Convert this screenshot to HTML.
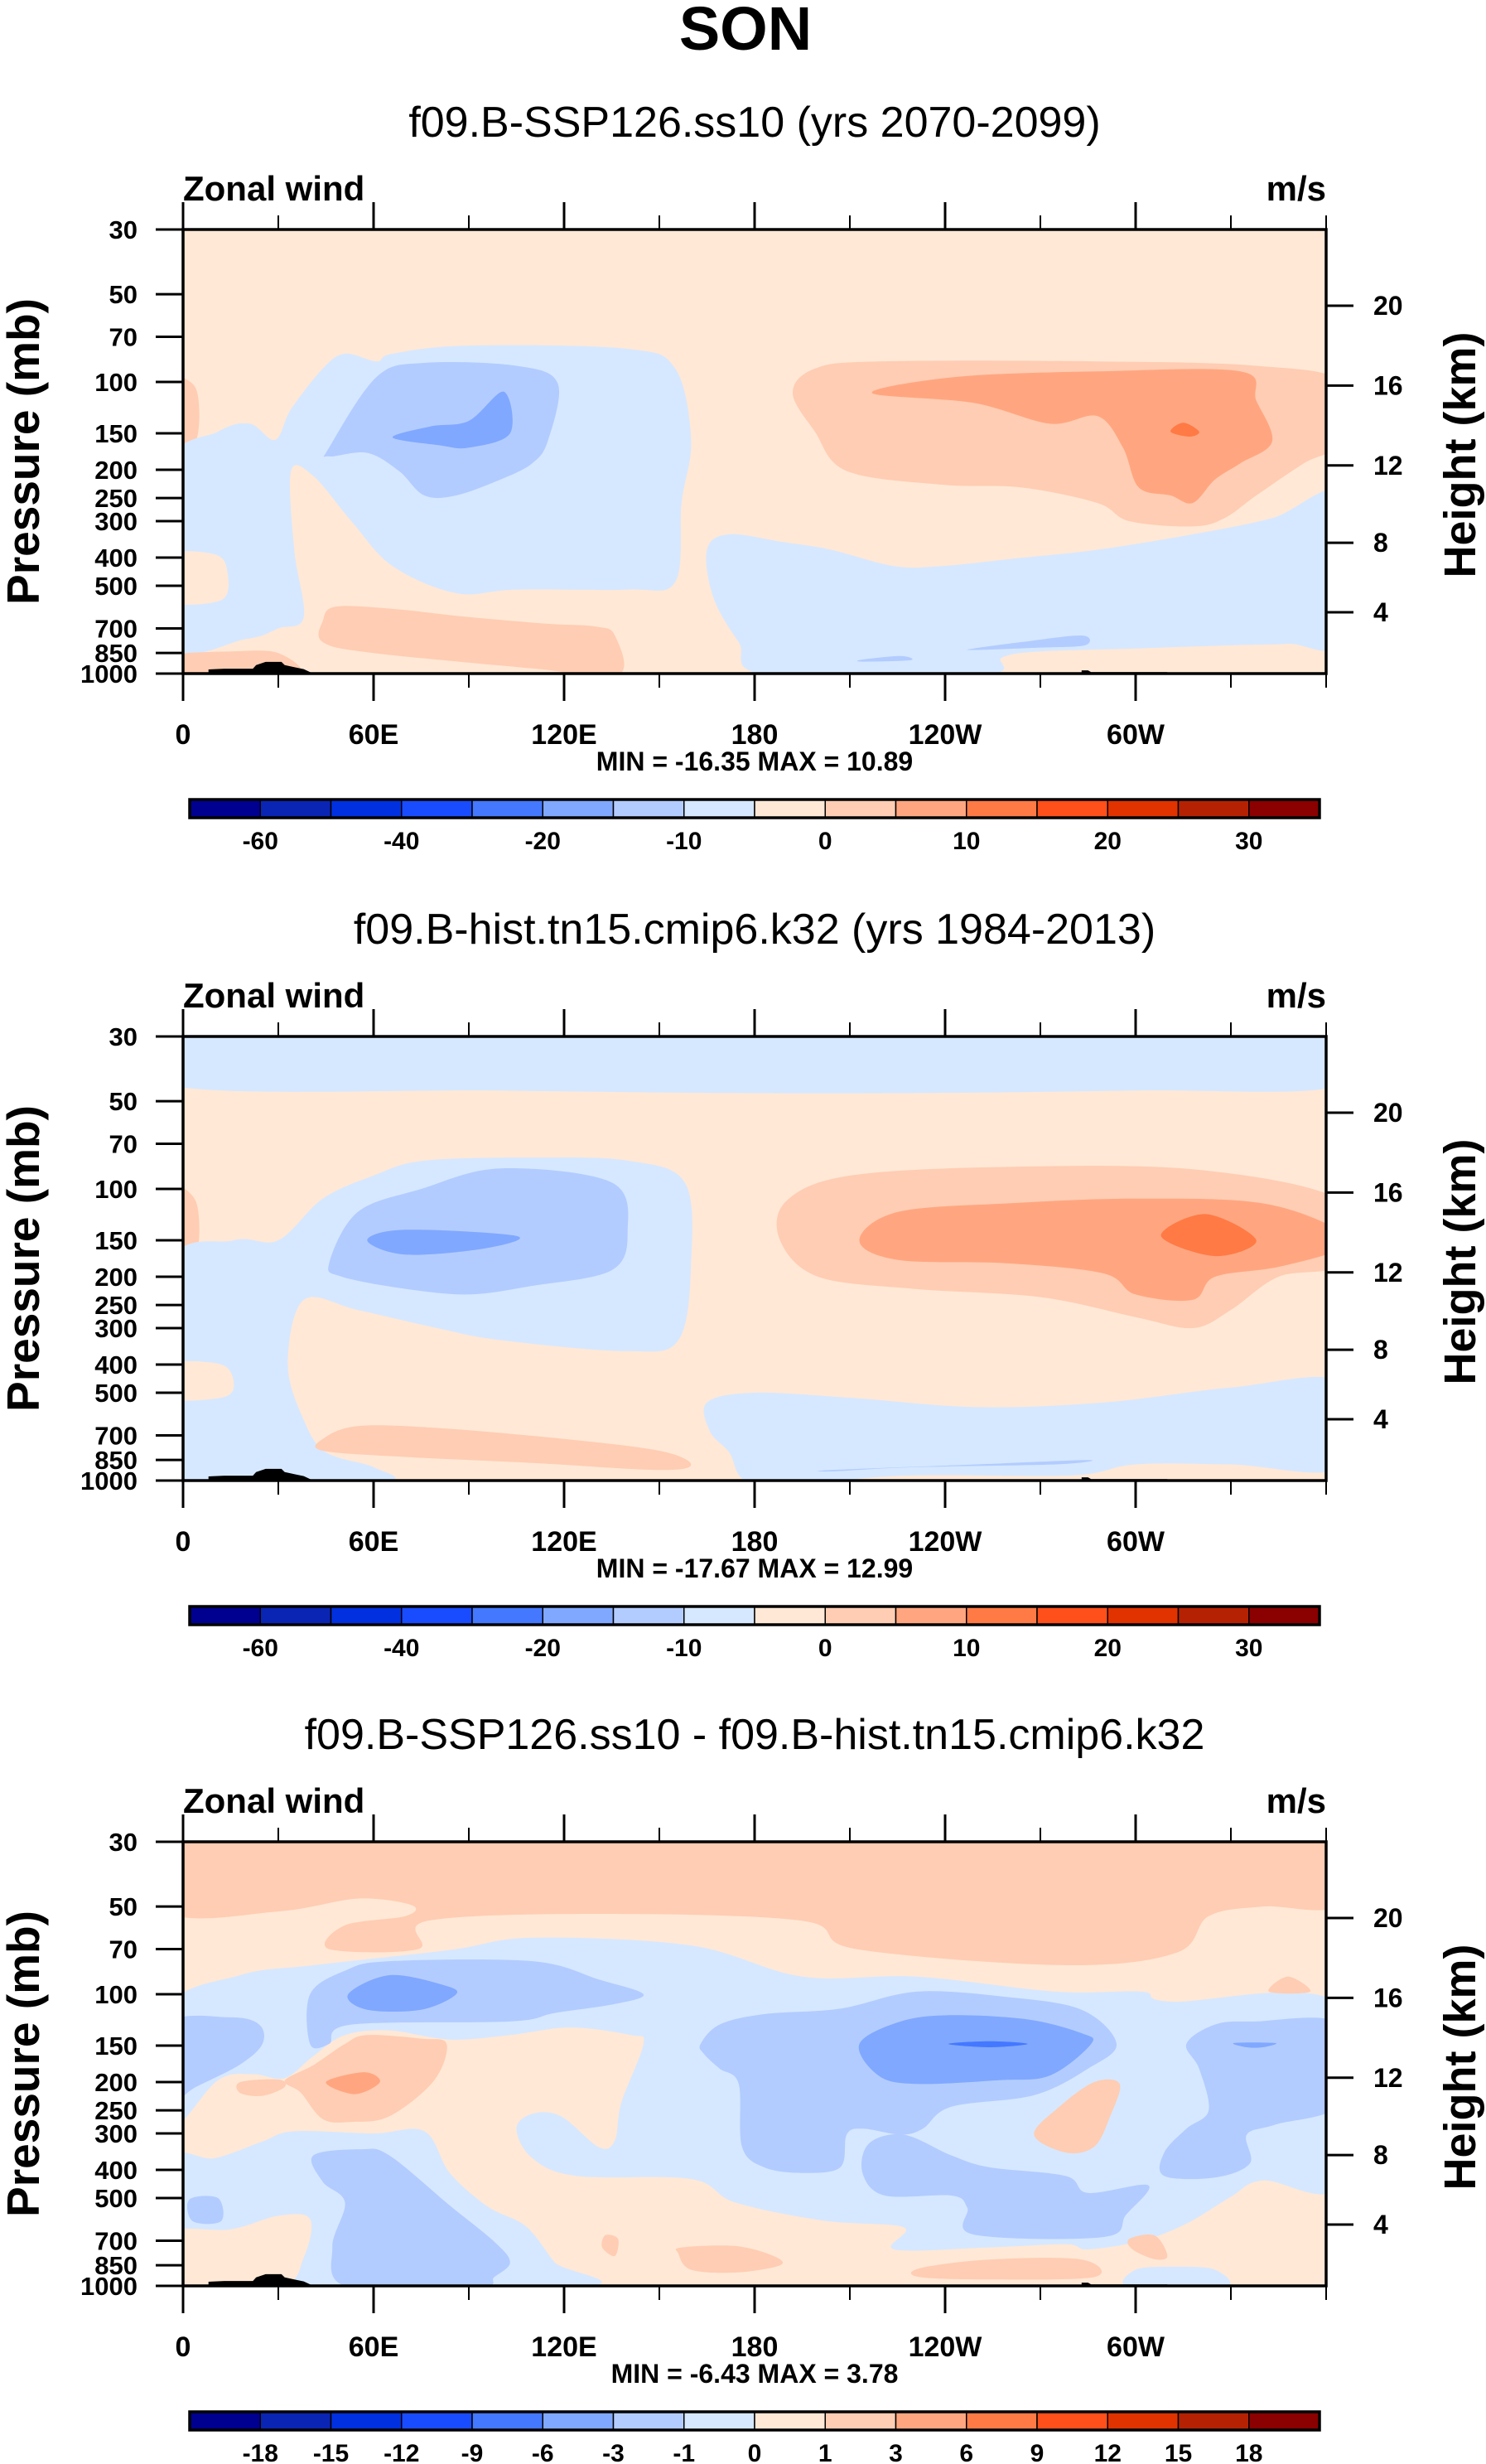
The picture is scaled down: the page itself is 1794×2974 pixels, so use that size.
<!DOCTYPE html>
<html><head><meta charset="utf-8"><title>SON Zonal wind</title>
<style>
html,body{margin:0;padding:0;background:#fff;}
svg{display:block;}
text{font-family:"Liberation Sans",Arial,sans-serif;fill:#000;}
.b{font-weight:bold;}
</style></head>
<body>
<svg id="fig" xmlns="http://www.w3.org/2000/svg" width="1794" height="2974" viewBox="0 0 1794 2974">
<rect x="0" y="0" width="1794" height="2974" fill="#fff"/>
<text x="900" y="60" font-size="74" class="b" text-anchor="middle">SON</text>
</svg>
<script>
// ---------- data ----------
const levelColors = ['#000090','#0a24b4','#0030e0','#1a4cff','#4478ff','#80a8ff','#b3ccff','#d6e8ff','#ffe8d6','#ffcdb3','#ffa680','#ff7a45','#ff4f1a','#e03300','#b52203','#8b0000'];
const cbLabelsAbs = ['-60','','-40','','-20','','-10','','0','','10','','20','','30'];
const cbLabelsDiff = ['-18','-15','-12','-9','-6','-3','-1','0','1','3','6','9','12','15','18'];
const pressureTicks = [30,50,70,100,150,200,250,300,400,500,700,850,1000];
const heightTicks = [4,8,12,16,20];
const lonTicks = [0,60,120,180,240,300];
const lonLabels = ['0','60E','120E','180','120W','60W'];
const lonMinor = [30,90,150,210,270,330];
const titles = ['f09.B-SSP126.ss10 (yrs 2070-2099)','f09.B-hist.tn15.cmip6.k32 (yrs 1984-2013)','f09.B-SSP126.ss10 - f09.B-hist.tn15.cmip6.k32'];
const minmax = ['MIN = -16.35  MAX =  10.89','MIN = -17.67  MAX =  12.99','MIN =  -6.43  MAX =   3.78'];

// terrain (lon, surface pressure)
const terrainWest = [[8,1000],[8,968],[13,962],[22,962],[23,935],[26,912],[31,912],[32,935],[35,950],[38,965],[41,1000]];
const terrainEast = [[283,1000],[283,975],[285,975],[286,988],[310,988],[310,1000]];

// ----- panel 1 contour regions [lon, p] -----
const p1OrangeLeftEdge = [[-5,100],[4,105],[4,160],[-5,170]];
const p1BlueWest = [[-5,200],[11,148],[21,139],[29,158],[34,124],[44,90],[51,80],[61,85],[66,80],[90,75],[140,77],[155,90],[160,158],[157,260],[155,485],[140,515],[105,515],[86,530],[66,428],[53,300],[41,210],[34,202],[35,376],[38,640],[30,700],[20,760],[-5,780]];
const p1BgPatch = [[-5,395],[10,390],[14,450],[12,560],[-5,560]];
const p1OrangeLowLeft = [[-5,870],[15,840],[30,850],[35,1010],[-5,1010]];
const p1OrangeLowCentral = [[44,660],[48,590],[66,600],[90,640],[115,675],[130,690],[136,740],[137,1010],[110,960],[60,850],[44,780]];
const p1BlueEast = [[165,376],[172,333],[189,354],[204,376],[224,428],[239,428],[264,401],[288,376],[318,333],[343,293],[365,245],[365,760],[348,790],[330,800],[300,820],[270,840],[258,880],[252,1010],[184,1010],[175,780],[167,548]];
const p1MidWest = [[46,168],[61,96],[76,86],[105,88],[118,101],[115,158],[110,190],[100,216],[86,245],[76,245],[68,202],[58,175],[46,180]];
const p1DarkWest = [[66,155],[78,142],[90,136],[101,108],[103,150],[90,168],[81,165]];
const p1MidSmallA = [[214,895],[226,870],[229,900],[214,910]];
const p1MidSmallB = [[249,820],[264,780],[283,740],[284,800],[269,815],[249,830]];
const p1OrangeEast = [[192,109],[199,90],[219,85],[288,85],[338,88],[365,100],[365,160],[353,190],[338,245],[328,293],[318,313],[298,300],[288,260],[264,230],[239,225],[209,202],[199,148]];
const p1Orange2East = [[217,109],[244,96],[288,92],[333,92],[338,116],[343,160],[333,190],[325,216],[318,260],[311,245],[301,230],[296,168],[288,131],[273,139],[249,118]];
const p1Orange3East = [[311,148],[315,138],[320,148],[317,154]];

// ----- panel 2 contour regions -----
const p2TopBlue = [[-5,26],[365,26],[365,44],[300,46],[200,47],[100,46],[-5,44]];
const p2OrangeLeftEdge = [[-5,100],[4,110],[4,170],[-5,180]];
const p2BlueWest = [[-5,190],[16,150],[30,150],[44,108],[60,90],[76,80],[110,78],[140,80],[158,95],[160,180],[156,330],[140,360],[100,330],[80,300],[55,260],[38,240],[33,400],[38,620],[45,800],[60,900],[62,1010],[-5,1010]];
const p2BgPatch = [[-5,400],[12,400],[16,470],[12,520],[-5,520]];
const p2OrangeLow = [[44,720],[55,650],[80,660],[120,720],[150,790],[160,880],[150,920],[110,870],[70,830],[44,790]];
const p2BlueEast = [[165,540],[180,500],[210,520],[250,560],[290,540],[330,480],[365,460],[365,900],[330,880],[300,880],[280,960],[230,960],[200,1010],[178,1010],[172,800],[166,680]];
const p2MidWest = [[46,180],[55,120],[75,100],[100,85],[135,95],[140,140],[135,190],[110,215],[90,230],[70,220],[50,200]];
const p2DarkWest = [[58,150],[70,138],[105,145],[95,160],[70,168]];
const p2MidSmall = [[204,920],[250,880],[285,850],[275,880],[230,900],[205,930]];
const p2OrangeEast = [[188,150],[190,110],[210,90],[260,84],[320,86],[365,110],[365,180],[345,200],[330,260],[318,300],[300,275],[270,235],[230,220],[200,200]];
const p2Orange2East = [[213,150],[225,120],[260,112],[300,108],[340,112],[365,140],[365,160],[345,185],[325,200],[318,240],[300,230],[290,195],[260,180],[225,175]];
const p2Orange3East = [[308,145],[322,122],[338,150],[325,170]];

// ----- panel 3 contour regions (difference) -----
const p3TopOrange = [[-5,26],[365,26],[365,49],[340,50],[323,54],[313,72],[278,79.5],[212,70],[195,56],[131,53],[77,56],[74,70],[46,70],[51,58],[70,54],[72,49.5],[55,47],[30,52],[-5,52]];
const p3BlueBand = [[-5,113],[18,86],[41,79.5],[84,70.5],[110,64],[160,68],[195,87],[231,87],[275,98],[302,98],[311,106],[365,110],[365,442],[340,435],[330,495],[316,612],[302,700],[285,750],[278,720],[254,738],[224,750],[227,630],[202,598],[174,518],[160,430],[124,420],[110,365],[105,289],[110,257],[119,262],[131,335],[136,317],[138,236],[145,148],[141,138],[122,130],[103,138],[84,143],[65,133],[51,138],[41,163],[32,194],[22,188],[11,197],[-5,289]];
const p3BlueLowLeft = [[-5,375],[10,365],[25,320],[35,295],[60,300],[76,295],[84,410],[96,535],[108,625],[117,830],[124,1010],[-5,1010]];
const p3BgLowLeft = [[-5,660],[15,640],[30,575],[40,590],[38,800],[30,1010],[-5,1010]];
const p3BlueLowRight = [[298,1010],[300,880],[312,860],[325,880],[328,1010]];
const p3MidWestUpper = [[40,100],[51,83],[65,77],[110,77],[131,89],[145,100],[136,108],[117,116],[103,124],[53,127],[46,148],[40,148]];
const p3MidCentral = [[163,148],[169,127],[183,117],[207,112],[231,98],[259,102],[283,113],[294,148],[285,180],[268,222],[242,243],[233,289],[226,303],[214,289],[209,303],[207,392],[195,410],[183,392],[176,333],[175,203],[169,180],[164,160]];
const p3MidCentralLow = [[227,303],[242,357],[254,392],[278,420],[285,480],[304,452],[297,570],[290,680],[249,667],[247,540],[242,490],[221,490],[214,410],[216,325]];
const p3MidRight = [[316,148],[325,127],[337,124],[365,127],[365,235],[344,280],[335,303],[336,380],[325,425],[309,420],[309,349],[316,289],[323,250],[320,180]];
const p3MidLeft = [[-5,127],[15,120],[24,127],[25,148],[18,174],[4,208],[-5,233]];
const p3MidColumn = [[41,357],[56,340],[65,357],[84,530],[98,705],[103,830],[98,933],[93,1010],[52,1010],[47,738],[51,518],[44,440]];
const p3MidSmall = [[2,505],[11,500],[12,600],[3,600]];
const p3DarkWest = [[52,100],[65,86],[82,93],[86,100],[75,113],[58,113]];
const p3DarkCentral = [[213,148],[226,124],[242,118],[266,122],[283,136],[286,148],[273,190],[257,197],[231,203],[219,190]];
const p3DarkRight = [[331,147],[344,147],[340,152],[335,152]];
const p3Deep = [[241,148],[254,145],[266,148],[254,152]];
const p3OrangeWest = [[51,148],[58,138],[75,142],[83,148],[79,198],[65,262],[53,274],[44,268],[37,217],[32,198],[41,175]];
const p3OrangeWestSmall = [[18,200],[30,196],[32,208],[25,223],[18,218]];
const p3OrangeRight = [[268,303],[276,243],[287,200],[295,203],[292,262],[287,333],[278,349]];
const p3OrangeLowA = [[157,738],[174,730],[186,790],[188,850],[174,900],[160,880],[156,775]];
const p3OrangeLowB = [[232,870],[254,812],[283,812],[287,933],[254,950],[232,933]];
const p3OrangeLowC = [[133,670],[137,690],[136,790],[132,738]];
const p3OrangeLowD = [[298,690],[306,672],[310,790],[306,810],[299,750]];
const p3OrangeTopRight = [[342,98],[348,87],[355,98]];
const p3Orange2West = [[45,200],[57,185],[62,200],[54,220]];

// ---------- layout ----------
const NS = 'http://www.w3.org/2000/svg';
const svg = document.getElementById('fig');
const PL = 221, PR = 1601, PH = 536;
const panelTops = [277, 1251, 2223];
const CBL = 229, CBR = 1593;

function xOf(lon){ return PL + lon/360*(PR-PL); }
function yOf(T, p){ return T + Math.log(p/30)/Math.log(1000/30)*PH; }
function pOfKm(z){ const m=z*1000; if(m<=11000) return 1013.25*Math.pow(1-2.25577e-5*m,5.25588); return 226.32*Math.exp(-(m-11000)/6341.6); }

function el(tag, attrs, parent){ const e=document.createElementNS(NS,tag); for(const k in attrs) e.setAttribute(k, attrs[k]); (parent||svg).appendChild(e); return e; }
function smoothPath(pts){
  const n=pts.length; let d='M'+pts[0][0].toFixed(1)+','+pts[0][1].toFixed(1);
  for(let i=0;i<n;i++){
    const p0=pts[(i-1+n)%n], p1=pts[i], p2=pts[(i+1)%n], p3=pts[(i+2)%n];
    const c1x=p1[0]+(p2[0]-p0[0])/6, c1y=p1[1]+(p2[1]-p0[1])/6;
    const c2x=p2[0]-(p3[0]-p1[0])/6, c2y=p2[1]-(p3[1]-p1[1])/6;
    d+=' C'+c1x.toFixed(1)+','+c1y.toFixed(1)+' '+c2x.toFixed(1)+','+c2y.toFixed(1)+' '+p2[0].toFixed(1)+','+p2[1].toFixed(1);
  }
  return d+'Z';
}

const panelLayers = [
  [[p1OrangeLeftEdge,9,'orange-left-edge'],[p1BlueWest,7,'blue-west'],[p1BgPatch,8,'bg-patch'],[p1OrangeLowLeft,9,'orange-low-left'],[p1OrangeLowCentral,9,'orange-low-central'],[p1BlueEast,7,'blue-east'],[p1MidWest,6,'mid-blue-west'],[p1DarkWest,5,'dark-blue-west'],[p1MidSmallA,6,'mid-blue-small-a'],[p1MidSmallB,6,'mid-blue-small-b'],[p1OrangeEast,9,'orange-east'],[p1Orange2East,10,'orange2-east'],[p1Orange3East,11,'orange3-east']],
  [[p2TopBlue,7,'blue-top-band'],[p2OrangeLeftEdge,9,'orange-left-edge'],[p2BlueWest,7,'blue-west'],[p2BgPatch,8,'bg-patch'],[p2OrangeLow,9,'orange-low'],[p2BlueEast,7,'blue-east'],[p2MidWest,6,'mid-blue-west'],[p2DarkWest,5,'dark-blue-west'],[p2MidSmall,6,'mid-blue-small'],[p2OrangeEast,9,'orange-east'],[p2Orange2East,10,'orange2-east'],[p2Orange3East,11,'orange3-east']],
  [[p3TopOrange,9,'orange-top-band'],[p3BlueBand,7,'blue-band'],[p3BlueLowLeft,7,'blue-low-left'],[p3BgLowLeft,8,'bg-low-left'],[p3BlueLowRight,7,'blue-low-right'],[p3MidWestUpper,6,'mid-blue-west-upper'],[p3MidCentral,6,'mid-blue-central'],[p3MidCentralLow,6,'mid-blue-central-low'],[p3MidRight,6,'mid-blue-right'],[p3MidLeft,6,'mid-blue-left'],[p3MidColumn,6,'mid-blue-column'],[p3MidSmall,6,'mid-blue-small'],[p3DarkWest,5,'dark-blue-west'],[p3DarkCentral,5,'dark-blue-central'],[p3DarkRight,5,'dark-blue-right'],[p3Deep,4,'deep-blue-core'],[p3OrangeWest,9,'orange-west'],[p3OrangeWestSmall,9,'orange-west-small'],[p3OrangeRight,9,'orange-right'],[p3OrangeLowA,9,'orange-low-a'],[p3OrangeLowB,9,'orange-low-b'],[p3OrangeLowC,9,'orange-low-c'],[p3OrangeLowD,9,'orange-low-d'],[p3OrangeTopRight,9,'orange-top-right'],[p3Orange2West,10,'orange2-west']]
];

panelTops.forEach(function(T, k){
  const g = el('g', {});
  
  
  const sub = el('text', {x:911, y:T-112, 'font-size':52, 'text-anchor':'middle'}, g);
  
  
  sub.textContent = titles[k];
  const zw = el('text', {x:PL, y:T-35, 'font-size':42, 'class':'b'}, g);
  
  
  zw.textContent = 'Zonal wind';
  const un = el('text', {x:PR, y:T-35, 'font-size':42, 'class':'b', 'text-anchor':'end'}, g);
  
  
  un.textContent = 'm/s';

  const cid = 'clip'+k;
  const defs = el('defs', {}, g);
  const cp = el('clipPath', {id:cid}, defs);
  el('rect', {x:PL, y:T, width:PR-PL, height:PH}, cp);
  const plot = el('g', {'clip-path':'url(#'+cid+')'}, g);
  
  
  const bg = el('rect', {x:PL, y:T, width:PR-PL, height:PH, fill:levelColors[8]}, plot);
  
  
  panelLayers[k].forEach(function(L){
    const pts = L[0].map(function(q){ return [xOf(q[0]), yOf(T, q[1])]; });
    const pa = el('path', {d:smoothPath(pts), fill:levelColors[L[1]]}, plot);
    
    
  });
  [terrainWest, terrainEast].forEach(function(tr){
    const pts = tr.map(function(q){ return xOf(q[0]).toFixed(1)+','+yOf(T, q[1]).toFixed(1); }).join(' ');
    const t = el('polygon', {points:pts, fill:'#000'}, plot);
    
    
  });
  const fr = el('rect', {x:PL, y:T, width:PR-PL, height:PH, fill:'none', stroke:'#000', 'stroke-width':3.5}, g);
  
  

  // x ticks
  lonTicks.forEach(function(lon, i){
    const x = xOf(lon);
    el('line', {x1:x, y1:T, x2:x, y2:T-33, stroke:'#000', 'stroke-width':3}, g);
    el('line', {x1:x, y1:T+PH, x2:x, y2:T+PH+33, stroke:'#000', 'stroke-width':3}, g);
    const t = el('text', {x:x, y:T+621, 'font-size':34, 'class':'b', 'text-anchor':'middle'}, g);
    
    
    t.textContent = lonLabels[i];
  });
  lonMinor.forEach(function(lon){
    const x = xOf(lon);
    el('line', {x1:x, y1:T, x2:x, y2:T-17, stroke:'#000', 'stroke-width':2}, g);
    el('line', {x1:x, y1:T+PH, x2:x, y2:T+PH+17, stroke:'#000', 'stroke-width':2}, g);
  });
  el('line', {x1:PR, y1:T, x2:PR, y2:T-17, stroke:'#000', 'stroke-width':2}, g);
  el('line', {x1:PR, y1:T+PH, x2:PR, y2:T+PH+17, stroke:'#000', 'stroke-width':2}, g);

  // y ticks pressure
  pressureTicks.forEach(function(p){
    const y = yOf(T, p);
    el('line', {x1:PL-33, y1:y, x2:PL, y2:y, stroke:'#000', 'stroke-width':3}, g);
    const t = el('text', {x:166, y:y+11, 'font-size':31, 'class':'b', 'text-anchor':'end'}, g);
    
    
    t.textContent = String(p);
  });
  heightTicks.forEach(function(z){
    const y = yOf(T, pOfKm(z));
    el('line', {x1:PR, y1:y, x2:PR+33, y2:y, stroke:'#000', 'stroke-width':3}, g);
    const t = el('text', {x:1658, y:y+11, 'font-size':32, 'class':'b'}, g);
    
    
    t.textContent = String(z);
  });
  const yt = el('text', {x:0, y:0, 'font-size':55, 'class':'b', 'text-anchor':'middle', transform:'translate(47,'+(T+268)+') rotate(-90)'}, g);
  
  
  yt.textContent = 'Pressure (mb)';
  const yt2 = el('text', {x:0, y:0, 'font-size':54, 'class':'b', 'text-anchor':'middle', transform:'translate(1781,'+(T+272)+') rotate(-90)'}, g);
  
  
  yt2.textContent = 'Height (km)';
  const mm = el('text', {x:911, y:T+653, 'font-size':32, 'class':'b', 'text-anchor':'middle', 'xml:space':'preserve'}, g);
  
  
  mm.textContent = minmax[k];

  // colorbar
  const cbT = T+688, cbH = 22, bw = (CBR-CBL)/16;
  const cb = el('g', {}, g);
  
  
  levelColors.forEach(function(c, i){
    const r = el('rect', {x:CBL+i*bw, y:cbT, width:bw, height:cbH, fill:c, stroke:'#000', 'stroke-width':1.5}, cb);
    
    
  });
  el('rect', {x:CBL, y:cbT, width:CBR-CBL, height:cbH, fill:'none', stroke:'#000', 'stroke-width':3.5}, cb);
  const labs = k===2 ? cbLabelsDiff : cbLabelsAbs;
  labs.forEach(function(s, i){
    if(!s) return;
    const t = el('text', {x:CBL+(i+1)*bw, y:cbT+60, 'font-size':30, 'class':'b', 'text-anchor':'middle'}, cb);
    
    
    t.textContent = s;
  });
});
</script>
</body></html>
